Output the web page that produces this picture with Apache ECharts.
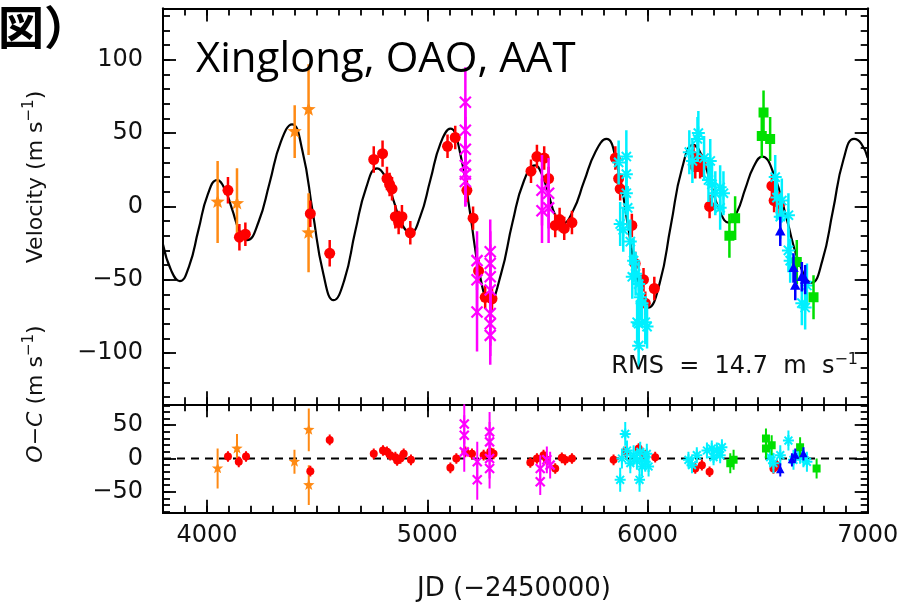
<!DOCTYPE html>
<html><head><meta charset="utf-8">
<script src="https://cdn.jsdelivr.net/npm/echarts@6/dist/echarts.min.js"></script>
<style>html,body{margin:0;padding:0;background:#fff;}#c{width:912px;height:605px;}</style>
</head><body><div id="c"></div>
<script>
// ---- data (JD-2450000, value, error) ----
const modelCurve = [[3800,-26],[3838,-44],[3876,-51],[3918,-41],[3961,-16],[4003,8],[4046,18],[4080,12],[4114,-2],[4148,-17],[4182,-23],[4233,-11],[4284,16],[4335,44],[4386,56],[4433,38],[4480,-4],[4528,-46],[4575,-64],[4624,-50],[4673,-17],[4723,13],[4772,26],[4810,20],[4847,4],[4885,-12],[4923,-18],[4968,-7],[5014,18],[5060,43],[5105,53],[5150,36],[5194,-4],[5239,-47],[5283,-65],[5335,-46],[5387,-11],[5438,17],[5490,28],[5520,22],[5551,8],[5581,-6],[5612,-12],[5662,-3],[5712,17],[5763,37],[5813,46],[5861,29],[5909,-11],[5957,-52],[6005,-69],[6056,-52],[6106,-13],[6157,26],[6208,42],[6248,34],[6288,15],[6328,-3],[6368,-11],[6406,-4],[6444,12],[6482,27],[6520,34],[6576,21],[6633,-9],[6690,-39],[6746,-52],[6794,-37],[6842,-3],[6890,32],[6938,46],[6970,43],[7000,33]];
const zeroLine = [[3800,0],[7000,0]];

const redRV = [[4095,11,9],[4147,-21,9],[4174,-19,8],[4469,-5,9],[4557,-32,9],[4757,32,9],[4797,36,9],[4817,19,8],[4829,15,8],[4840,12,8],[4855,-7,8],[4870,-11,8],[4885,-7,8],[4923,-18,8],[5092,41,8],[5127,47,8],[5180,11,8],[5208,-8,8],[5233,-44,8],[5263,-62,8],[5294,-63,8],[5471,24,8],[5498,34,8],[5531,33,8],[5551,19,8],[5581,-13,8],[5601,-9,8],[5622,-15,8],[5657,-11,8],[5854,33,8],[5869,19,8],[5876,12,8],[5929,-13,8],[5944,-39,8],[5982,-50,8],[5990,-66,8],[6031,-56,8],[6209,34,8],[6217,27,8],[6239,27,8],[6247,28,8],[6282,0,8],[6565,14,8],[6575,4,8],[6600,2,8]];
const orangeRV = [[4048,3,28],[4136,2,24],[4398,51,18],[4461,66,31],[4461,-18,27]];
const magentaRV = [[5173,71,24],[5173,52,22],[5173,39,22],[5173,28,22],[5173,22,22],[5173,17,17],[5226,-37,20],[5226,-50,22],[5226,-72,27],[5286,-31,22],[5286,-39,22],[5286,-48,22],[5286,-57,22],[5286,-73,22],[5286,-80,22],[5286,-88,20],[5521,11,24],[5521,-3,22],[5551,9,24],[5551,-1,24]];
const cyanRV = [[5869,30,15],[5904,34,18],[5904,22,15],[5876,-12,15],[5890,-16,15],[5904,9,15],[5910,-1,15],[5922,-24,15],[5937,-37,15],[5931,-48,15],[5946,-46,15],[5960,-53,15],[5968,-62,15],[5953,-79,15],[5960,-80,15],[5990,-79,15],[5998,-82,15],[5960,-95,15],[5975,-66,15],[6190,37,15],[6227,46,15],[6204,31,15],[6257,33,15],[6231,50,15],[6285,31,15],[6277,18,15],[6293,15,15],[6330,13,15],[6345,9,15],[6308,9,15],[6330,-1,15],[6580,20,15],[6588,6,15],[6610,4,15],[6640,-6,15],[6603,-7,15],[6640,-30,15],[6648,-37,15],[6724,-54,15],[6701,-66,15],[6716,-69,15]];
const greenRV = [[6527,64,15],[6519,48,15],[6557,46,15],[6372,-20,15],[6398,-8,15],[6678,-38,15],[6754,-62,15]];
const blueRV = [[6603,-17,10],[6663,-42,10],[6671,-54,10],[6701,-48,10],[6716,-50,10]];

const redOC = [[4095,3,8],[4144,-5,8],[4177,3,8],[4469,-19,8],[4557,28,8],[4757,7,8],[4799,12,8],[4817,10,8],[4832,5,8],[4855,2,8],[4863,-3,8],[4878,0,8],[4893,7,8],[4926,-2,8],[5105,-14,8],[5132,0,8],[5173,10,8],[5203,7,8],[5256,5,8],[5286,10,8],[5301,7,8],[5468,-6,8],[5498,0,8],[5528,5,8],[5543,-2,8],[5581,-15,8],[5611,1,8],[5626,-2,8],[5657,0,8],[5846,-2,8],[5900,10,8],[5960,15,8],[5990,5,8],[6035,2,8],[6217,-15,8],[6247,-10,8],[6282,-20,8],[6572,-15,8],[6588,-10,8]];
const orangeOC = [[4048,-15,30],[4136,15,22],[4397,-5,18],[4462,43,32],[4462,-40,30]];
const magentaOC = [[5168,52,30],[5168,35,30],[5168,10,30],[5227,-5,30],[5227,-32,30],[5283,40,30],[5283,25,30],[5283,0,30],[5283,-15,30],[5513,-15,20],[5513,-35,20],[5543,-2,20],[5558,-10,20]];
const cyanOC = [[5876,-32,18],[5899,37,18],[5907,12,15],[5922,-7,15],[5884,0,15],[5937,5,15],[5952,-2,15],[5967,10,15],[5975,-12,15],[5964,-32,18],[5990,-5,15],[5997,7,15],[6005,-12,15],[6186,-2,12],[6224,5,12],[6202,-10,12],[6270,12,12],[6292,15,12],[6315,12,12],[6338,17,12],[6330,5,12],[6300,2,12],[6557,2,15],[6572,-7,15],[6603,5,15],[6640,27,15],[6663,-2,15],[6693,7,15],[6724,-5,15],[6708,2,15]];
const greenOC = [[6376,-7,15],[6391,-2,15],[6538,30,15],[6538,15,15],[6564,20,15],[6693,17,15],[6768,-15,15]];
const blueOC = [[6603,-17,10],[6656,-2,10],[6671,5,10],[6708,7,10]];

const xMajor = [4000,5000,6000,7000];
const vMajor = [-100,-50,0,50,100];
const ocMajor = [-50,0,50];
const xMinor = []; for (let v = 3800; v <= 7000; v += 100) xMinor.push(v);
const vMinor = []; for (let v = -130; v <= 130; v += 10) vMinor.push(v);
const ocMinor = []; for (let v = -80; v <= 80; v += 10) ocMinor.push(v);

const FONT = 'DejaVu Sans';
const minus = v => (v < 0 ? '\u2212' + Math.abs(v) : '' + v);

function xAx(grid, pos, ticks, len, labels) {
  return {type:'value', gridIndex:grid, position:pos, min:3800, max:7000,
    axisLine:{show:true, onZero:false, lineStyle:{color:'#000', width:2}},
    axisTick:{show:true, inside:true, length:len, customValues:ticks, lineStyle:{color:'#000', width:1.8}},
    axisLabel:{show:labels, customValues:ticks, margin:11, fontFamily:FONT, fontSize:24, color:'#111', formatter:minus},
    splitLine:{show:false}};
}
function yAx(grid, pos, ticks, len, labels, mn, mx) {
  return {type:'value', gridIndex:grid, position:pos, min:mn, max:mx,
    axisLine:{show:true, onZero:false, lineStyle:{color:'#000', width:2}},
    axisTick:{show:true, inside:true, length:len, customValues:ticks, lineStyle:{color:'#000', width:1.8}},
    axisLabel:{show:labels, customValues:ticks, margin:20, fontFamily:FONT, fontSize:24, color:'#111', formatter:minus},
    splitLine:{show:false}};
}

function starPts(cx, cy, r) {
  const p = [];
  for (let i = 0; i < 10; i++) {
    const a = -Math.PI / 2 + i * Math.PI / 5;
    const rr = i % 2 === 0 ? r : r * 0.42;
    p.push([cx + rr * Math.cos(a), cy + rr * Math.sin(a)]);
  }
  return p;
}
function makeRender(kind, color, size, ew) {
  return function (params, api) {
    const x = api.value(0), y = api.value(1), e = api.value(2);
    const c = api.coord([x, y]), t = api.coord([x, y + e]), b = api.coord([x, y - e]);
    const r = size / 2;
    const ch = [{type:'line', shape:{x1:c[0], y1:t[1], x2:c[0], y2:b[1]}, style:{stroke:color, lineWidth:ew}}];
    if (kind === 'circle') ch.push({type:'circle', shape:{cx:c[0], cy:c[1], r:r}, style:{fill:color}});
    else if (kind === 'square') ch.push({type:'rect', shape:{x:c[0]-r, y:c[1]-r, width:2*r, height:2*r}, style:{fill:color}});
    else if (kind === 'triangle') ch.push({type:'polygon', shape:{points:[[c[0], c[1]-r],[c[0]+r*0.95, c[1]+r*0.75],[c[0]-r*0.95, c[1]+r*0.75]]}, style:{fill:color}});
    else if (kind === 'star') ch.push({type:'polygon', shape:{points:starPts(c[0], c[1], r)}, style:{fill:color}});
    else if (kind === 'cross') {
      ch.push({type:'line', shape:{x1:c[0]-r, y1:c[1]-r, x2:c[0]+r, y2:c[1]+r}, style:{stroke:color, lineWidth:2.2}});
      ch.push({type:'line', shape:{x1:c[0]-r, y1:c[1]+r, x2:c[0]+r, y2:c[1]-r}, style:{stroke:color, lineWidth:2.2}});
    } else if (kind === 'aster') {
      for (let k = 0; k < 4; k++) {
        const a = k * Math.PI / 4;
        ch.push({type:'line', shape:{x1:c[0]-r*Math.cos(a), y1:c[1]-r*Math.sin(a), x2:c[0]+r*Math.cos(a), y2:c[1]+r*Math.sin(a)}, style:{stroke:color, lineWidth:2}});
      }
    }
    return {type:'group', children:ch};
  };
}
function pts(data, kind, color, size, grid, z) {
  return {type:'custom', xAxisIndex: grid * 4, yAxisIndex: grid * 4, data:data, z:z,
    renderItem: makeRender(kind, color, size, grid === 0 ? 2.5 : 2), clip:true, silent:true, animation:false,
    encode:{x:0, y:1}};
}

const RED = '#ff0000', ORANGE = '#ff8a14', MAG = '#ff00ff', CYAN = '#00f0ff', GREEN = '#00e000', BLUE = '#0000ff';

const chart = echarts.init(document.getElementById('c'), null, {renderer:'canvas'});
const G0 = {left:163, right:44.3, top:8.5, height:395.8};
const G1 = {left:163, right:44.3, top:404.3, height:108.4};

chart.setOption({
  animation:false,
  backgroundColor:'#fff',
  grid:[G0, G1],
  xAxis:[
    xAx(0,'bottom',xMajor,13,false), xAx(0,'bottom',xMinor,7,false), xAx(0,'top',xMajor,13,false), xAx(0,'top',xMinor,7,false),
    xAx(1,'bottom',xMajor,13,true), xAx(1,'bottom',xMinor,7,false), xAx(1,'top',xMajor,13,false), xAx(1,'top',xMinor,7,false)
  ],
  yAxis:[
    yAx(0,'left',vMajor,13,true,-135,135), yAx(0,'left',vMinor,7,false,-135,135), yAx(0,'right',vMajor,13,false,-135,135), yAx(0,'right',vMinor,7,false,-135,135),
    yAx(1,'left',ocMajor,13,true,-81.5,81.5), yAx(1,'left',ocMinor,7,false,-81.5,81.5), yAx(1,'right',ocMajor,13,false,-81.5,81.5), yAx(1,'right',ocMinor,7,false,-81.5,81.5)
  ],
  series:[
    {type:'line', xAxisIndex:0, yAxisIndex:0, data:modelCurve, smooth:0.5, showSymbol:false, silent:true,
      lineStyle:{color:'#000', width:2.2}, z:2},
    {type:'line', xAxisIndex:4, yAxisIndex:4, data:zeroLine, showSymbol:false, silent:true,
      lineStyle:{color:'#000', width:2, type:[8,6]}, z:2},
    pts(orangeRV,'star',ORANGE,15,0,3),
    pts(redRV,'circle',RED,11,0,3),
    pts(magentaRV,'cross',MAG,11,0,4),
    pts(cyanRV,'aster',CYAN,13,0,4),
    pts(greenRV,'square',GREEN,10,0,5),
    pts(blueRV,'triangle',BLUE,11,0,5),
    pts(orangeOC,'star',ORANGE,12,1,3),
    pts(redOC,'circle',RED,8,1,3),
    pts(magentaOC,'cross',MAG,9,1,4),
    pts(cyanOC,'aster',CYAN,11,1,4),
    pts(greenOC,'square',GREEN,8,1,5),
    pts(blueOC,'triangle',BLUE,9,1,5)
  ],
  graphic:[
    {type:'text', left:-2, top:4, z:10, style:{text:'図）', font:'bold 46px "Noto Sans CJK JP"', fill:'#000'}},
    {type:'text', x:196, y:60, z:10, style:{text:'Xinglong, OAO, AAT', fontFamily:'Open Sans', fontSize:42, fill:'#000', align:'left', verticalAlign:'middle'}},
    {type:'text', x:858, y:367, z:10, style:{text:'{n|RMS  =  14.7  m  s}{s|\u22121}', align:'right', verticalAlign:'middle',
      rich:{n:{fontFamily:FONT, fontSize:24, fill:'#111', lineHeight:30}, s:{fontFamily:FONT, fontSize:16, fill:'#111', lineHeight:18, verticalAlign:'top'}}}},
    {type:'text', x:36, y:177, rotation:Math.PI/2, z:10, style:{text:'{n|Velocity (m s}{s|\u22121}{n|)}', align:'center', verticalAlign:'middle',
      rich:{n:{fontFamily:FONT, fontSize:22, fill:'#111', lineHeight:28}, s:{fontFamily:FONT, fontSize:15, fill:'#111', lineHeight:16, verticalAlign:'top'}}}},
    {type:'text', x:36, y:394, rotation:Math.PI/2, z:10, style:{text:'{i|O\u2212C}{n| (m s}{s|\u22121}{n|)}', align:'center', verticalAlign:'middle',
      rich:{i:{fontFamily:FONT, fontSize:22, fontStyle:'italic', fill:'#111', lineHeight:28}, n:{fontFamily:FONT, fontSize:22, fill:'#111', lineHeight:28}, s:{fontFamily:FONT, fontSize:15, fill:'#111', lineHeight:16, verticalAlign:'top'}}}},
    {type:'text', x:514, y:589, z:10, style:{text:'JD (\u22122450000)', fontFamily:FONT, fontSize:26, fill:'#111', align:'center', verticalAlign:'middle'}}
  ]
});
</script>
</body></html>
